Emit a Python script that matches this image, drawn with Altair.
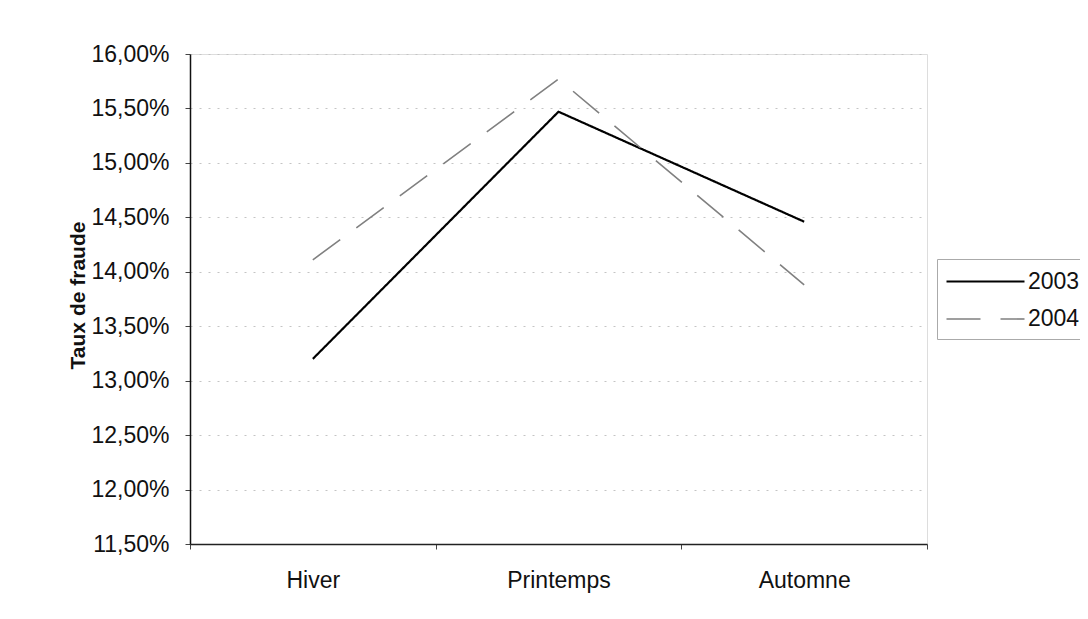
import altair as alt
import pandas as pd

saisons = ["Hiver", "Printemps", "Automne"]
annees = ["2003", "2004"]
taux_2003 = [0.1320, 0.1547, 0.1446]
taux_2004 = [0.1411, 0.1577, 0.1388]
y_ticks = [0.115, 0.12, 0.125, 0.13, 0.135, 0.14, 0.145, 0.15, 0.155, 0.16]

rows = []
for s, v in zip(saisons, taux_2003):
    rows.append({"Saison": s, "Annee": "2003", "Taux": v})
for s, v in zip(saisons, taux_2004):
    rows.append({"Saison": s, "Annee": "2004", "Taux": v})
df = pd.DataFrame(rows)

FONT = "Liberation Sans"


def make_legend():
    return alt.Legend(
        title=None,
        orient="none",
        legendX=747,
        legendY=205,
        symbolType="M-1,0H5",
        symbolSize=676,
        symbolStrokeWidth=2,
        labelFont=FONT,
        labelFontSize=23,
        labelColor="#111",
        labelOffset=54,
        rowPadding=11,
        padding=8,
        strokeColor="#aaaaaa",
    )


chart = alt.Chart(df).mark_line(strokeCap="butt", strokeJoin="miter").encode(
    x=alt.X(
        "Saison:N",
        sort=saisons,
        scale=alt.Scale(type="band", paddingInner=0, paddingOuter=0),
        axis=alt.Axis(
            title=None,
            labelAngle=0,
            labelFont=FONT,
            labelFontSize=23,
            labelColor="#111",
            labelPadding=20,
            labelBaseline="top",
            tickBand="extent",
            tickSize=5,
            tickColor="#444",
            domainColor="#222",
            domainWidth=1.5,
            grid=False,
        ),
    ),
    y=alt.Y(
        "Taux:Q",
        scale=alt.Scale(domain=[0.115, 0.16], nice=False, zero=False),
        axis=alt.Axis(
            title="Taux de fraude",
            values=y_ticks,
            labelExpr="replace(format(datum.value, '.2%'), '.', ',')",
            labelFont=FONT,
            labelFontSize=23,
            labelColor="#111",
            labelPadding=16,
            tickSize=5,
            tickColor="#444",
            domainColor="#111",
            domainWidth=1.5,
            grid=True,
            gridColor="#c4c4c4",
            gridDash=[2, 7],
            gridWidth=1,
            titleFont=FONT,
            titleFontSize=21,
            titleFontWeight="bold",
            titleColor="#111",
            titleX=-112,
            titleY=241,
            titleAngle=270,
            titleAlign="center",
            titleBaseline="middle",
        ),
    ),
    color=alt.Color(
        "Annee:N",
        scale=alt.Scale(domain=annees, range=["#000000", "#808080"]),
        legend=make_legend(),
    ),
    strokeDash=alt.StrokeDash(
        "Annee:N",
        scale=alt.Scale(domain=annees, range=[[1, 0], [34, 20]]),
        legend=make_legend(),
    ),
    strokeWidth=alt.StrokeWidth(
        "Annee:N",
        scale=alt.Scale(domain=annees, range=[2.2, 1.6]),
        legend=None,
    ),
).properties(
    width=737,
    height=490,
    autosize=alt.AutoSizeParams(type="none"),
    padding={"left": 182, "top": 46, "right": 153, "bottom": 67},
).configure_view(
    stroke="#9a9a9a",
    strokeDash=[2, 2],
    strokeWidth=1,
).configure(background="white")

chart.save("out.html", embed_options={"renderer": "svg", "actions": False})
